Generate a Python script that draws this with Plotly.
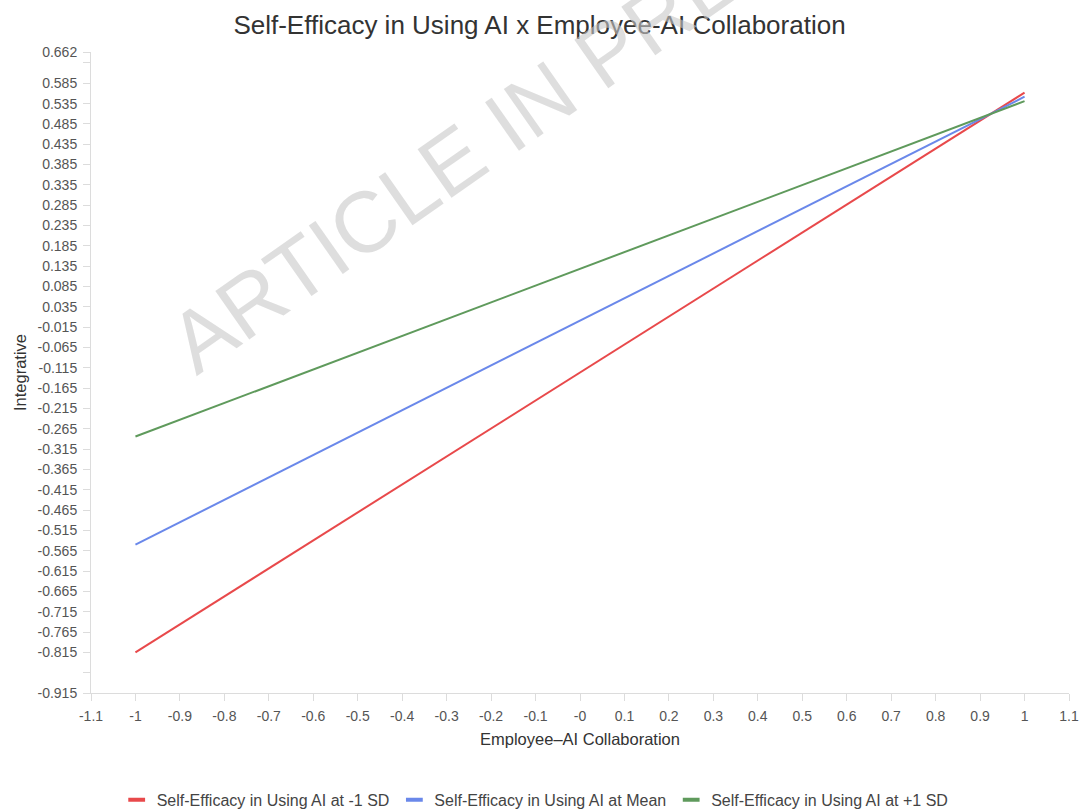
import plotly.graph_objects as go

# Simple slopes of Integrative on Employee–AI Collaboration
collab = [-1, 1]
series_names = [
    "Self-Efficacy in Using AI at -1 SD",
    "Self-Efficacy in Using AI at Mean",
    "Self-Efficacy in Using AI at +1 SD",
]
low_sd = [-0.815, 0.562]
mean_level = [-0.550, 0.552]
high_sd = [-0.284, 0.541]
colors = ["#e8494b", "#6a88ea", "#5f9a5c"]

x_ticks = [-1.1, -1, -0.9, -0.8, -0.7, -0.6, -0.5, -0.4, -0.3, -0.2, -0.1,
           0, 0.1, 0.2, 0.3, 0.4, 0.5, 0.6, 0.7, 0.8, 0.9, 1, 1.1]
x_labels = ["-1.1", "-1", "-0.9", "-0.8", "-0.7", "-0.6", "-0.5", "-0.4", "-0.3",
            "-0.2", "-0.1", "-0", "0.1", "0.2", "0.3", "0.4", "0.5", "0.6", "0.7",
            "0.8", "0.9", "1", "1.1"]

y_min, y_max = -0.915, 0.662
y_ticks = [round(y_min + 0.05 * k, 3) for k in range(32)] + [y_max]
y_labels = ["" if v in (-0.865, 0.635) else f"{v:.3f}" for v in y_ticks]

fig = go.Figure()
for name, ys, c in zip(series_names, [low_sd, mean_level, high_sd], colors):
    fig.add_trace(go.Scatter(x=collab, y=ys, mode="lines", name=name,
                             line=dict(color=c, width=2), showlegend=False))
    # short bar-style legend key
    fig.add_trace(go.Scatter(x=[None], y=[None], mode="markers", name=name,
                             marker=dict(symbol="line-ew-open", size=12, color=c,
                                         line=dict(color=c, width=4))))

axis_common = dict(showline=True, linecolor="#dcdcdc", linewidth=1,
                   ticks="outside", tickcolor="#dcdcdc", ticklen=7,
                   ticklabelstandoff=3,
                   showgrid=False, zeroline=False,
                   tickfont=dict(size=14, color="#555555"))

fig.update_layout(
    width=1079, height=810,
    margin=dict(l=91, r=10, t=52, b=117, autoexpand=False),
    paper_bgcolor="white", plot_bgcolor="white",
    font=dict(family="Liberation Sans, Arial, sans-serif", color="#444444"),
    title=dict(text="Self-Efficacy in Using AI x Employee-AI Collaboration",
               x=0.5, xanchor="center", y=0.969, yanchor="middle",
               font=dict(size=26, color="#333333")),
    xaxis=dict(range=[-1.1, 1.1], tickvals=x_ticks, ticktext=x_labels,
               title=dict(text="Employee–AI Collaboration", standoff=10,
                          font=dict(size=16.5, color="#333333")),
               **axis_common),
    yaxis=dict(range=[y_min, y_max], tickvals=y_ticks, ticktext=y_labels,
               title=dict(text="Integrative", standoff=6,
                          font=dict(size=16.5, color="#333333")),
               **axis_common),
    legend=dict(orientation="h", xref="container", x=0.496, xanchor="center",
                yref="container", y=0.0125, yanchor="middle",
                font=dict(size=16, color="#444444"),
                itemwidth=30, tracegroupgap=0),
    showlegend=True,
)

# diagonal watermark
fig.add_annotation(text="ARTICLE IN PRESS", xref="paper", yref="paper",
                   x=0.42, y=0.885, xanchor="center", yanchor="middle",
                   showarrow=False, textangle=-35,
                   font=dict(size=86, color="rgba(200,200,200,0.6)",
                             family="Liberation Sans, Arial, sans-serif"))

fig.write_html("out.html")
